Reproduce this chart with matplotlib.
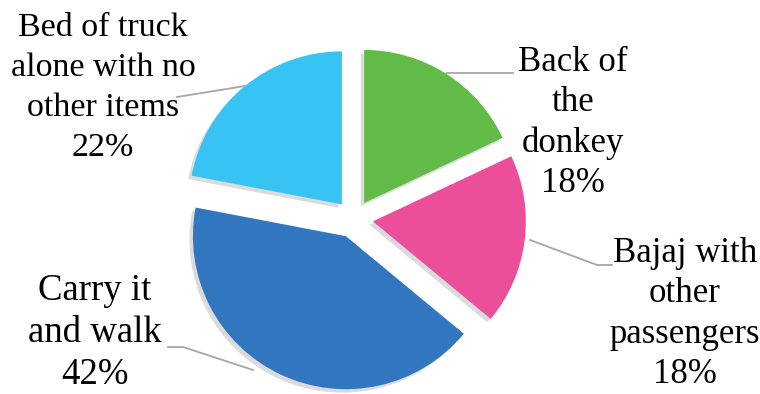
import numpy as np
import matplotlib.pyplot as plt

# ---- Transport share data

categories = ["Back of\nthe\ndonkey", "Bajaj with\nother\npassengers",
              "Carry it\nand walk", "Bed of truck\nalone with no\nother items"]
shares = [18, 18, 42, 22]
colors = ["#62BB47", "#EC4F9A", "#3176BE", "#38C4F2"]

W, H = 760, 394

plt.rcParams['font.family'] = ['Liberation Serif', 'DejaVu Serif']

fig = plt.figure(figsize=(W / 100, H / 100), dpi=100)
ax = fig.add_axes([0, 0, 1, 1])

# ---- Exploded pie, drawn in pixel units

center = (354, H - 219)
radius = 153
wedges, _ = ax.pie(shares, colors=colors, center=center, radius=radius,
                   explode=[19] * len(shares), startangle=90, counterclock=False,
                   frame=True,
                   shadow={'ox': -2.5, 'oy': -2.5, 'facecolor': '#888888',
                           'edgecolor': 'none', 'alpha': 0.3})
ax.set_xlim(0, W)
ax.set_ylim(0, H)
ax.set_aspect('equal')
ax.axis('off')

# ---- Labels with leader lines (text centre, leader points)

label_pos = [(573, 123), (685, 314), (95, 333), (103, 88)]
leaders = [
    [(447, 73), (513, 73)],
    [(530, 240), (597, 265), (612, 265)],
    [(253, 370), (183, 347), (168, 347)],
    [(245, 86), (177, 97)],
]
sizes = [25, 25, 26.5, 24.5]
spacing = [1.29, 1.29, 1.28, 1.40]

for cat, val, (tx, ty), pts, fs, ls in zip(categories, shares, label_pos,
                                           leaders, sizes, spacing):
    ax.text(tx, H - ty, f"{cat}\n{val}%", ha='center', va='center',
            fontsize=fs, linespacing=ls, color='black')
    xs = [p[0] for p in pts]
    ys = [H - p[1] for p in pts]
    ax.plot(xs, ys, color='#A6A6A6', lw=1.3)

fig.savefig("out.png", dpi=100)
